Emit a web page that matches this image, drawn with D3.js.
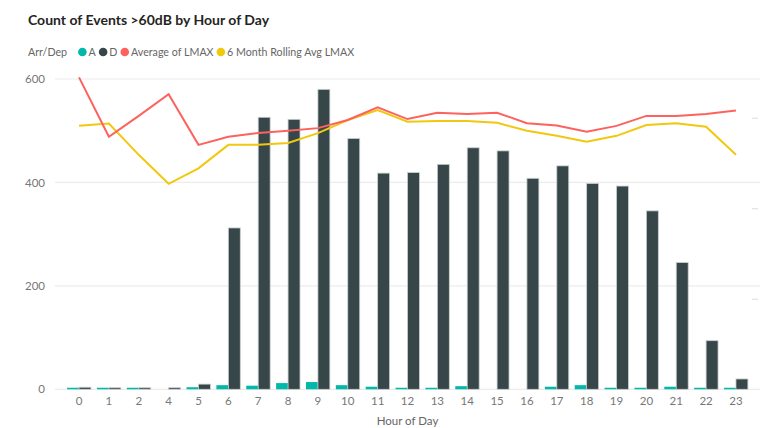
<!DOCTYPE html>
<html><head><meta charset="utf-8">
<script src="https://cdn.jsdelivr.net/npm/d3@7"></script>
<style>
body{margin:0;background:#fff}
svg{display:block}
text{font-family:Lato,"Open Sans",sans-serif}
</style>
</head><body>
<svg id="chart" width="762" height="428"></svg>
<script>
// ---- data ----
const hours = ["0","1","2","4","5","6","7","8","9","10","11","12","13","14","15","16","17","18","19","20","21","22","23"];
const countA = [3,3,3,null,4,8,7,12,14,8,5,3,3,6,null,null,5,8,3,3,5,3,3];
const countD = [4,3,3,3,10,312,526,522,580,485,418,419,435,467,461,408,432,398,393,345,245,94,20];
const avgLmax = [68.9,55.8,60.4,65.2,54.0,55.8,56.6,57.1,57.7,59.5,62.3,59.7,61.1,60.8,61.1,58.8,58.3,56.9,58.2,60.4,60.4,60.8,61.6];
const rollingLmax = [58.2,58.7,51.8,45.4,48.8,54.0,54.0,54.4,56.6,59.5,61.7,59.1,59.3,59.3,58.9,57.1,56.0,54.7,56.0,58.4,58.8,58.0,51.8];
const leftTicks = [0,200,400,600];
const rightTicks = [0,20,40,60];
const seriesNames = ["A","D","Average of LMAX","6 Month Rolling Avg LMAX"];
const seriesColors = ["#01B8AA","#374649","#FD625E","#F2C80F"];

// ---- layout ----
const FONT = 'Lato,"Open Sans",sans-serif';
const svg = d3.select("#chart");
const plotL = 55, plotR = 760, plotT = 79, plotB = 389.3;

const x = d3.scaleBand().domain(hours).range([plotL, plotR]).paddingInner(0.2).paddingOuter(0.405);
const xSub = d3.scaleBand().domain(["A","D"]).range([0, x.bandwidth()]).padding(0);
const y = d3.scaleLinear().domain([0, 600]).range([plotB, plotT]);
const y2 = d3.scaleLinear().domain([0, 20 * (plotB - plotT) / 90.53]).range([plotB, plotT]);

// title
svg.append("text").attr("x", 28).attr("y", 25).attr("font-size", 14).attr("font-weight", 700)
  .attr("fill", "#252423").text("Count of Events >60dB by Hour of Day");

// legend
const leg = svg.append("g").attr("transform", "translate(28,52)");
const legTitle = leg.append("text").attr("x", 0).attr("y", 0).attr("dy", "0.35em")
  .attr("font-size", 10.7).attr("fill", "#666").text("Arr/Dep");
let lx = legTitle.node().getComputedTextLength() + 11;
seriesNames.forEach((n, i) => {
  leg.append("circle").attr("cx", lx + 4.3).attr("cy", 0).attr("r", 4.3).attr("fill", seriesColors[i]);
  const t = leg.append("text").attr("x", lx + 10.5).attr("y", 0).attr("dy", "0.35em")
    .attr("font-size", 10.7).attr("fill", "#666").text(n);
  lx += 10.5 + t.node().getComputedTextLength() + 3;
});

// gridlines
svg.append("g").selectAll("line").data(leftTicks).join("line")
  .attr("x1", plotL).attr("x2", plotR).attr("y1", d => y(d)).attr("y2", d => y(d))
  .attr("stroke", "#ececec").attr("stroke-width", 1.2);

// left axis labels
const yAxis = d3.axisLeft(y).tickValues(leftTicks).tickSize(0).tickPadding(10);
svg.append("g").attr("transform", `translate(${plotL},0)`).call(yAxis)
  .call(g => g.select(".domain").remove())
  .call(g => g.selectAll("text").attr("font-size", 11.5).attr("fill", "#777").attr("font-family", FONT));

// right axis (tick marks only)
const y2Axis = d3.axisRight(y2).tickValues(rightTicks.filter(d => d > 0)).tickSize(6).tickFormat("");
svg.append("g").attr("transform", `translate(752,0)`).call(y2Axis)
  .call(g => g.select(".domain").remove())
  .call(g => g.selectAll("line").attr("stroke", "#dddddd"));

// bars
const groups = svg.append("g").selectAll("g").data(hours).join("g")
  .attr("transform", d => `translate(${x(d)},0)`);
groups.append("rect")
  .filter((d, i) => countA[i] != null)
  .attr("x", xSub("A")).attr("width", xSub.bandwidth())
  .attr("y", d => y(countA[hours.indexOf(d)]))
  .attr("height", d => plotB - y(countA[hours.indexOf(d)]))
  .attr("fill", seriesColors[0]);
groups.append("rect")
  .attr("x", xSub("D")).attr("width", xSub.bandwidth())
  .attr("y", (d, i) => y(countD[i]))
  .attr("height", (d, i) => plotB - y(countD[i]))
  .attr("fill", seriesColors[1]).attr("stroke", "#c9cfcf").attr("stroke-width", 0.8);

// lines
const cx = d => x(d) + x.bandwidth() / 2;
const line = arr => d3.line().x((d, i) => cx(hours[i])).y(d => y2(d))(arr);
svg.append("path").attr("d", line(rollingLmax)).attr("fill", "none")
  .attr("stroke", seriesColors[3]).attr("stroke-width", 2);
svg.append("path").attr("d", line(avgLmax)).attr("fill", "none")
  .attr("stroke", seriesColors[2]).attr("stroke-width", 2);

// x axis
const xAxis = d3.axisBottom(x).tickSize(0).tickPadding(8);
svg.append("g").attr("transform", `translate(0,${plotB})`).call(xAxis)
  .call(g => g.select(".domain").remove())
  .call(g => g.selectAll("text").attr("font-size", 11.5).attr("fill", "#777").attr("font-family", FONT));

svg.append("text").attr("x", (plotL + plotR) / 2).attr("y", 421).attr("dy", "0.35em")
  .attr("text-anchor", "middle").attr("font-size", 11.5).attr("fill", "#666").text("Hour of Day");
</script>
</body></html>
